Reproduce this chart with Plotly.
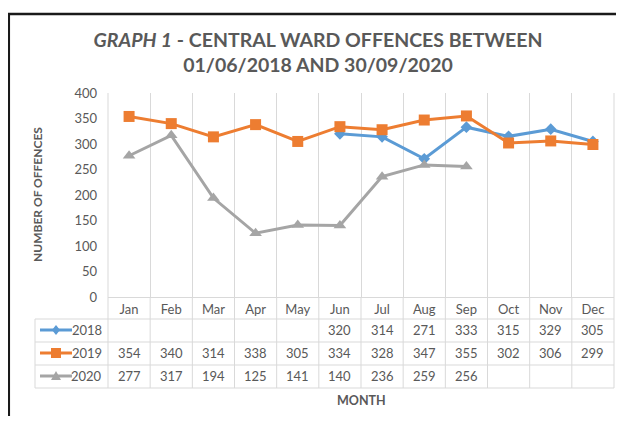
import plotly.graph_objects as go

months = ["Jan", "Feb", "Mar", "Apr", "May", "Jun", "Jul", "Aug", "Sep", "Oct", "Nov", "Dec"]
y2018 = [None, None, None, None, None, 320, 314, 271, 333, 315, 329, 305]
y2019 = [354, 340, 314, 338, 305, 334, 328, 347, 355, 302, 306, 299]
y2020 = [277, 317, 194, 125, 141, 140, 236, 259, 256, None, None, None]
series_names = ["2018", "2019", "2020"]
y_tick_vals = [0, 50, 100, 150, 200, 250, 300, 350, 400]

series = [y2018, y2019, y2020]
colors = ["#5B9BD5", "#ED7D31", "#A5A5A5"]
symbols = ["diamond", "square", "triangle-up"]
msizes = [9, 11, 11]

# page body margin offset (8px) -> figure sized to fit the 624x424 window
OFF = 8
W, H = 624 - OFF, 424 - 2 * OFF
# plot area in screen pixels
PL, PR, PT, PB = 108, 614, 93, 297
L, T = PL - OFF, PT - OFF
PW, PH = PR - PL, PB - PT
R = W - L - PW
B = H - T - PH
TXT = "#595959"
GRID = "#D9D9D9"
FONT = "Lato, 'Open Sans', sans-serif"


def px(x):
    return (x - PL) / PW


def py(y):
    return (PB - y) / PH


fig = go.Figure()
for name, vals, c, s, ms in zip(series_names, series, colors, symbols, msizes):
    fig.add_trace(go.Scatter(
        x=months, y=vals, name=name, mode="lines+markers",
        line=dict(color=c, width=3), marker=dict(symbol=s, size=ms, color=c),
        connectgaps=False, cliponaxis=False, showlegend=False))

shapes = []
annotations = []

# table geometry (screen pixels)
row_centers = [330, 353, 376]
row_lines = [319, 342, 365, 388]
for yl in row_lines:
    shapes.append(dict(type="line", xref="paper", yref="paper", x0=px(35), x1=px(614),
                       y0=py(yl), y1=py(yl), line=dict(color=GRID, width=1)))
shapes.append(dict(type="line", xref="paper", yref="paper", x0=px(35), x1=px(35),
                   y0=py(319), y1=py(388), line=dict(color=GRID, width=1)))
for k in range(len(months) + 1):
    if k == 0 or k == len(months):
        xx = px(108) if k == 0 else px(614)
        shapes.append(dict(type="line", xref="paper", yref="paper", x0=xx, x1=xx,
                           y0=py(93), y1=py(388), line=dict(color=GRID, width=1)))
    else:
        shapes.append(dict(type="line", xref="x", yref="paper", x0=k - 0.5, x1=k - 0.5,
                           y0=py(297), y1=py(388), line=dict(color=GRID, width=1)))

for i, (name, vals, c, s) in enumerate(zip(series_names, series, colors, symbols)):
    yc = py(row_centers[i])
    for m, v in zip(months, vals):
        if v is not None:
            annotations.append(dict(x=m, xref="x", y=yc, yref="paper", text=str(v),
                                    xanchor="center", yanchor="middle",
                                    showarrow=False, font=dict(size=13, color=TXT, family=FONT)))
    # legend key
    shapes.append(dict(type="line", xref="paper", yref="paper", x0=px(40), x1=px(72),
                       y0=yc, y1=yc, line=dict(color=c, width=3)))
    if s == "diamond":
        path = "M0,5 L4,0 L0,-5 L-4,0 Z"
    elif s == "square":
        path = "M-5,-5 L5,-5 L5,5 L-5,5 Z"
    else:
        path = "M-5,-4 L5,-4 L0,5 Z"
    shapes.append(dict(type="path", xref="paper", yref="paper", xsizemode="pixel",
                       ysizemode="pixel", xanchor=px(56), yanchor=yc, path=path,
                       fillcolor=c, line=dict(color=c, width=0)))
    annotations.append(dict(x=px(104), xref="paper", y=yc, yref="paper", text=name,
                            xanchor="right", yanchor="middle", showarrow=False,
                            font=dict(size=13, color=TXT, family=FONT)))

# axis titles
annotations.append(dict(x=px(37), xref="paper", y=py(195), yref="paper",
                        text="<b>NUMBER OF OFFENCES</b>", textangle=-90, showarrow=False,
                        xanchor="center", yanchor="middle",
                        font=dict(size=12, color=TXT, family=FONT)))
annotations.append(dict(x=px(361), xref="paper", y=py(400), yref="paper",
                        text="<b>MONTH</b>", showarrow=False,
                        xanchor="center", yanchor="middle",
                        font=dict(size=12.5, color=TXT, family=FONT)))

# outer frame (top and left edges visible)
shapes.append(dict(type="line", xref="paper", yref="paper", x0=px(8), x1=px(700),
                   y0=py(14), y1=py(14), line=dict(color="#1a1a1a", width=2.5)))
shapes.append(dict(type="line", xref="paper", yref="paper", x0=px(8.8), x1=px(8.8),
                   y0=py(13), y1=py(500), line=dict(color="#1a1a1a", width=2.5)))

fig.update_layout(
    width=W, height=H,
    margin=dict(l=L, r=R, t=T, b=B, autoexpand=False),
    paper_bgcolor="white", plot_bgcolor="white",
    font=dict(family=FONT, color=TXT),
    title=dict(text="<b><i>GRAPH 1</i> - CENTRAL WARD OFFENCES BETWEEN<br>01/06/2018 AND 30/09/2020</b>",
               x=(318 - OFF) / W, xanchor="center", y=1 - (46.5 - OFF) / H, yanchor="middle",
               font=dict(size=19.5, color=TXT, family=FONT)),
    xaxis=dict(type="category", categoryarray=months, range=[-0.5, 11.5], automargin=False,
               tickson="boundaries", showgrid=True, gridcolor=GRID, gridwidth=1,
               showline=True, linecolor=GRID, linewidth=1, ticks="",
               tickfont=dict(size=13, color=TXT, family=FONT), fixedrange=True),
    yaxis=dict(range=[0, 400], tickvals=y_tick_vals, showgrid=False, zeroline=False,
               automargin=False, showline=False, ticks="", ticklabelstandoff=10,
               tickfont=dict(size=13, color=TXT, family=FONT), fixedrange=True),
    shapes=shapes, annotations=annotations,
)

fig.write_html("out.html", config={"displayModeBar": False})
